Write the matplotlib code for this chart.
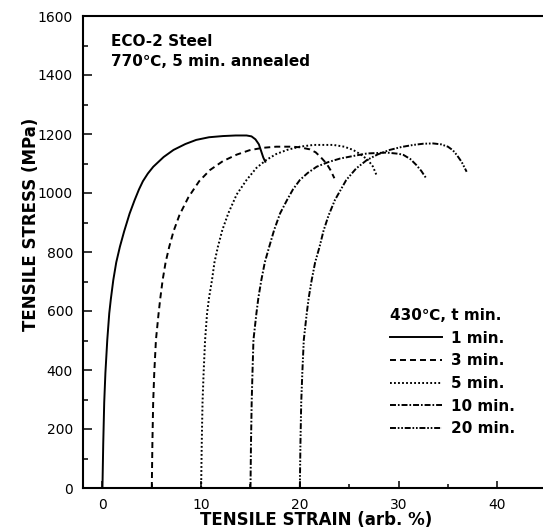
import matplotlib
matplotlib.use("Agg")
import matplotlib.pyplot as plt
from matplotlib.ticker import MultipleLocator

plt.rcParams['font.family'] = ['DejaVu Sans']
plt.rcParams['lines.scale_dashes'] = False

# ---- data ----
strain_1 = [0.0, 0.08, 0.18, 0.3, 0.49, 0.69, 0.85, 1.1, 1.4, 1.77, 2.2, 2.75, 3.25, 3.7, 4.1, 4.6, 5.15,
            6.2, 7.2, 8.4, 9.5, 10.8, 12.2, 13.5, 14.6, 15.1, 15.5, 15.85, 16.1, 16.3, 16.5]
stress_1 = [0, 150, 290, 390, 502, 592, 640, 705, 765, 818, 870, 930, 975, 1012, 1040, 1066, 1089,
            1122, 1146, 1166, 1180, 1189, 1193, 1195, 1195, 1192, 1182, 1165, 1140, 1120, 1106]

strain_3 = [5.0, 5.06, 5.14, 5.25, 5.42, 5.69, 5.85, 6.1, 6.4, 6.77, 7.2, 7.8, 8.7, 9.8, 10.9, 12.2,
            13.6, 14.9, 16.2, 17.6, 19.2, 20.0, 21.0, 21.6, 22.1, 22.7, 23.1, 23.5]
stress_3 = [0, 150, 290, 390, 502, 592, 640, 705, 765, 818, 870, 925, 985, 1040, 1078, 1108,
            1130, 1145, 1153, 1157, 1157, 1155, 1148, 1138, 1122, 1100, 1078, 1050]

strain_5 = [10.0, 10.06, 10.14, 10.25, 10.4, 10.6, 10.8, 11.1, 11.35, 11.7, 12.15, 12.75, 13.6, 14.6,
            15.6, 16.6, 17.6, 18.7, 20.0, 21.4, 23.4, 24.5, 25.4, 26.2, 26.9, 27.4, 27.8]
stress_5 = [0, 150, 290, 390, 502, 592, 645, 705, 765, 818, 875, 931, 995, 1044,
            1085, 1112, 1132, 1146, 1157, 1163, 1163, 1157, 1146, 1130, 1112, 1090, 1058]

strain_10 = [15.0, 15.05, 15.12, 15.2, 15.3, 15.6, 15.8, 16.1, 16.45, 16.9, 17.4, 18.0, 18.7, 19.3,
             20.0, 20.8, 21.7, 22.9, 24.1, 25.5, 26.8, 28.8, 30.0, 30.5, 31.2, 31.8, 32.3, 32.8]
stress_10 = [0, 150, 290, 390, 502, 592, 645, 705, 765, 818, 875, 931, 976, 1012,
             1044, 1068, 1089, 1105, 1117, 1126, 1134, 1137, 1133, 1129, 1115, 1095, 1075, 1050]

strain_20 = [20.0, 20.06, 20.14, 20.25, 20.4, 20.7, 20.9, 21.2, 21.55, 22.0, 22.4, 22.9, 23.55, 24.7,
             25.7, 26.8, 27.9, 29.1, 30.3, 31.5, 32.5, 33.5, 34.3, 35.0, 35.5, 35.9, 36.4, 36.9]
stress_20 = [0, 150, 290, 390, 502, 592, 645, 705, 765, 818, 872, 923, 976, 1044,
             1083, 1112, 1131, 1146, 1156, 1163, 1167, 1168, 1165, 1157, 1145, 1129, 1105, 1072]

series_labels = ['1 min.', '3 min.', '5 min.', '10 min.', '20 min.']
x_ticks = [0, 10, 20, 30, 40]
y_ticks = [0, 200, 400, 600, 800, 1000, 1200, 1400, 1600]

# ---- figure ----
fig = plt.figure(figsize=(5.43, 5.29), dpi=100)
ax = fig.add_axes([82.7 / 543, 41 / 529, (543 - 82.7) / 543, 472 / 529])

styles = [
    dict(linestyle='-'),
    dict(linestyle=(0, (4.3, 2.9))),
    dict(linestyle=(0, (1.3, 1.6))),
    dict(linestyle=(0, (4.3, 1.4, 1.2, 1.4))),
    dict(linestyle=(0, (4.3, 1.3, 1.2, 1.3, 1.2, 1.3))),
]
data = [(strain_1, stress_1), (strain_3, stress_3), (strain_5, stress_5),
        (strain_10, stress_10), (strain_20, stress_20)]
for (sx, sy), st, lab in zip(data, styles, series_labels):
    ax.plot(sx, sy, color='black', lw=1.4, label=lab, solid_joinstyle='round', **st)

ax.set_xlim(-2, -2 + (543 - 82.7) / 9.87)
ax.set_ylim(0, 1600)
ax.set_xticks(x_ticks)
ax.set_yticks(y_ticks)
ax.xaxis.set_minor_locator(MultipleLocator(5))
ax.yaxis.set_minor_locator(MultipleLocator(100))

ax.spines['right'].set_visible(False)
for s in ['left', 'bottom', 'top']:
    ax.spines[s].set_linewidth(1.5)

ax.tick_params(axis='both', which='both', direction='in', top=False, right=False,
               width=1.1, labelsize=10)
ax.tick_params(axis='y', which='major', length=6.5, pad=7)
ax.tick_params(axis='y', which='minor', length=3.6)
ax.tick_params(axis='x', which='major', length=5, pad=7)
ax.tick_params(axis='x', which='minor', length=3)

ax.set_xlabel('TENSILE STRAIN (arb. %)', fontsize=12, fontweight='bold')
ax.set_ylabel('TENSILE STRESS (MPa)', fontsize=12, fontweight='bold')
ax.xaxis.set_label_coords(0.507, -0.048)
ax.yaxis.set_label_coords(-0.092, 0.559)

ax.text(0.061, 0.946, 'ECO-2 Steel', transform=ax.transAxes, fontsize=11,
        fontweight='bold', va='center', ha='left')
ax.text(0.061, 0.904, '770℃, 5 min. annealed', transform=ax.transAxes, fontsize=11,
        fontweight='bold', va='center', ha='left')

leg = ax.legend(loc='upper left', bbox_to_anchor=(0.668, 0.381), frameon=False,
                title='430℃, t min.', alignment='left',
                title_fontproperties={'weight': 'bold', 'size': 11},
                prop={'weight': 'bold', 'size': 11},
                handlelength=3.4, handletextpad=0.55, labelspacing=0.5,
                borderpad=0, borderaxespad=0)

fig.savefig('out.png', dpi=100)
